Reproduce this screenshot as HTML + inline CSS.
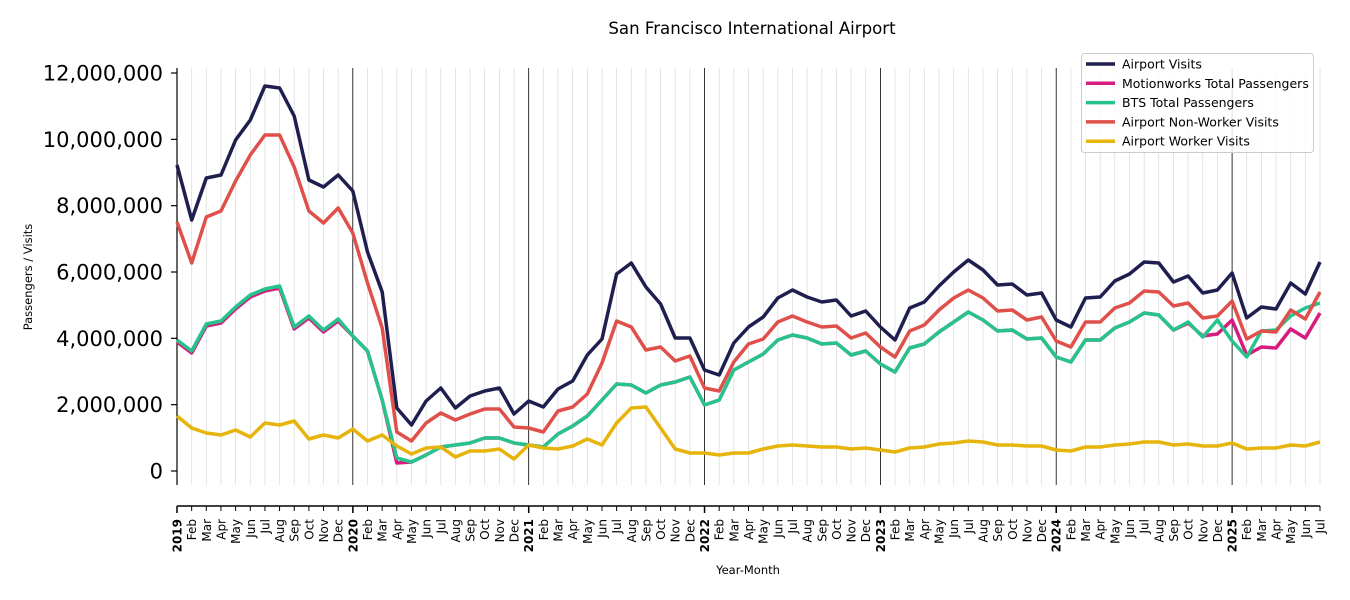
<!DOCTYPE html>
<html><head><meta charset="utf-8"><style>
html,body{margin:0;padding:0;background:#fff;}
svg{display:block;font-family:"DejaVu Sans","Liberation Sans",sans-serif;}
</style></head><body>
<svg id="s" width="1350" height="600" xmlns="http://www.w3.org/2000/svg"></svg>
<script>
const s=document.getElementById('s');
const X=i=>177+i*(1143/78);
let h='';
h+='<text x="752" y="34" font-size="16.6" text-anchor="middle">San Francisco International Airport</text>';
for(let i=1;i<=78;i++){const x=X(i).toFixed(1);if(i%12==0)h+=`<line x1="${x}" y1="68" x2="${x}" y2="485" stroke="#000" stroke-width="0.8"/>`;else h+=`<line x1="${x}" y1="68" x2="${x}" y2="485" stroke="#ddd" stroke-width="0.8"/>`;}
h+='<line x1="177" y1="68" x2="177" y2="485" stroke="#000" stroke-width="1.2"/>';
for(let k=0;k<=6;k++){const y=471-k*66.33;h+=`<line x1="171" y1="${y}" x2="177" y2="${y}" stroke="#000" stroke-width="1.2"/>`;
const v=(k*2000000).toLocaleString('en-US');h+=`<text x="163" y="${y+7.5}" font-size="21" text-anchor="end">${v}</text>`;}
h+='<text transform="translate(32,277) rotate(-90)" font-size="11.5" text-anchor="middle">Passengers / Visits</text>';
h+='<line x1="177" y1="506" x2="1320" y2="506" stroke="#000" stroke-width="1.5"/>';
const M=['Jan','Feb','Mar','Apr','May','Jun','Jul','Aug','Sep','Oct','Nov','Dec'];
for(let i=0;i<=78;i++){const x=X(i);const big=i%12==0;h+=`<line x1="${x}" y1="506" x2="${x}" y2="${big?513:511}" stroke="#000" stroke-width="${big?1.5:1}"/>`;
const t=big?(2019+i/12):M[i%12];h+=`<text transform="translate(${x+4.5},519) rotate(-90)" font-size="12" text-anchor="end" ${big?'font-weight="bold"':''}>${t}</text>`;}
h+='<text x="748" y="574" font-size="11.5" text-anchor="middle">Year-Month</text>';
const AV=[165,220,178,175,140,120,86,88,116,180,187,175,191,252,292,408,425,401,388,408,396,391,388,414,401,407,389,381,355,339,274,263,287,304,338,338,370,375,343,327,317,298,290,297,302,300,316,311,327,340,308,302,286,272,260,270,285,284,295,293,320,327,298,297,281,274,262,263,282,276,293,290,273,318,307,309,283,294,262];
const NW=[222,263,217,211,181,155,135,135,167,211,223,208,233,283,328,432,441,423,413,420,414,409,409,427,428,432,411,407,394,363,321,327,350,347,361,356,388,391,362,344,339,322,316,322,327,326,338,333,347,357,331,325,310,298,290,298,311,310,320,317,341,347,322,322,308,303,291,292,306,303,318,316,301,339,331,332,310,319,292];
const BT=[340,351,324,321,307,295,289,286,327,316,330,319,336,351,400,458,462,455,447,445,443,438,438,443,445,447,434,426,416,400,384,385,393,385,382,377,405,400,370,362,354,340,335,338,344,343,355,351,364,372,348,344,332,322,312,320,331,330,339,338,357,362,340,340,328,322,313,315,330,322,337,320,341,357,331,330,316,308,303];
const MW=BT.slice();
for(let i=0;i<12;i++)MW[i]+=2;MW[15]=463;MW[16]=462;
MW[69]=323;MW[70]=336;MW[71]=334;MW[72]=320;MW[73]=355;MW[74]=347;MW[75]=348;MW[76]=329;MW[77]=338;MW[78]=313;
const WK=[416,428,433,435,430,437,423,425,421,439,435,438,429,441,435,446,454,448,447,457,451,451,449,459,445,448,449,446,439,445,423,408,407,428,449,453,453,455,453,453,449,446,445,446,447,447,449,448,450,452,448,447,444,443,441,442,445,445,446,446,450,451,447,447,445,444,442,442,445,444,446,446,443,449,448,448,445,446,442];
const pl=(a,c)=>`<polyline fill="none" stroke="${c}" stroke-width="3.5" stroke-linejoin="round" points="${a.map((y,i)=>X(i).toFixed(1)+','+y).join(' ')}"/>`;
h+=pl(AV,'#1f1f4f')+pl(MW,'#d81b7f')+pl(BT,'#26c48c')+pl(NW,'#e0504a')+pl(WK,'#e6b40a');
h+='<rect x="1081.5" y="53.5" width="232" height="99" rx="3" fill="#fff" fill-opacity="0.85" stroke="#ccc"/>';
const L=[['Airport Visits','#1f1f4f'],['Motionworks Total Passengers','#d81b7f'],['BTS Total Passengers','#26c48c'],['Airport Non-Worker Visits','#e0504a'],['Airport Worker Visits','#e6b40a']];
L.forEach((l,i)=>{const y=64+i*19.3;h+=`<line x1="1086" y1="${y}" x2="1115" y2="${y}" stroke="${l[1]}" stroke-width="3.5"/><text x="1122" y="${y+4.5}" font-size="12.5">${l[0]}</text>`;});
s.innerHTML=h;
</script>
</body></html>
